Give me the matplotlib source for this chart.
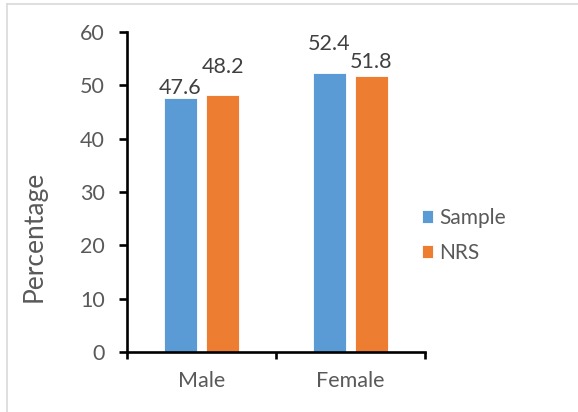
import numpy as np
import matplotlib.pyplot as plt
from matplotlib.lines import Line2D

plt.rcParams["font.family"] = ["Lato", "DejaVu Sans"]
plt.rcParams["font.size"] = 15

categories = ["Male", "Female"]
sample = [47.6, 52.4]
nrs = [48.2, 51.8]
series_names = ["Sample", "NRS"]
colors = ["#5B9BD5", "#ED7D31"]
text_color = "#595959"

# vertical nudges (points) so neighbouring value labels don't collide
sample_lift = [0, 13]
nrs_lift = [13, 3]

fig = plt.figure(figsize=(5.78, 4.12), dpi=100)
ax = fig.add_axes([0.2197, 0.1456, 0.5156, 0.7767])

x = np.arange(len(categories)) + 0.5
width = 0.22
offset = 0.141

bars = []
for vals, lifts, dx, color, name in zip([sample, nrs], [sample_lift, nrs_lift],
                                        [-offset, offset], colors, series_names):
    b = ax.bar(x + dx, vals, width, color=color, label=name,
               edgecolor="white", linewidth=0.6)
    bars.append(b)
    for xi, v, lift in zip(x + dx, vals, lifts):
        ax.annotate(f"{v:.1f}", (xi, v), xytext=(0, lift), textcoords="offset points",
                    ha="center", va="bottom", fontsize=15.5, color="#404040")

ax.set_xlim(0, 2)
ax.set_ylim(0, 60)
ax.set_yticks(range(0, 61, 10))
ax.set_xticks([0, 1, 2])
ax.set_xticklabels([])
ax.set_xticks(x, minor=True)
ax.set_xticklabels(categories, minor=True)

for side in ["top", "right"]:
    ax.spines[side].set_visible(False)
for side in ["left", "bottom"]:
    ax.spines[side].set_linewidth(1.9)
    ax.spines[side].set_color("black")

ax.tick_params(axis="y", which="major", direction="out", length=6, width=1.9,
               colors="black", labelcolor=text_color, labelsize=15.5, pad=10)
ax.tick_params(axis="x", which="major", direction="out", length=5, width=1.9,
               colors="black")
ax.tick_params(axis="x", which="minor", length=0, labelcolor=text_color,
               labelsize=15.5, pad=14)

ax.set_ylabel("Percentage", fontsize=19, color=text_color)
ax.yaxis.set_label_coords(-0.27, 0.36)

leg = fig.legend(handles=bars, labels=series_names, loc="center left",
                 bbox_to_anchor=(0.697, 0.428), frameon=False, fontsize=15,
                 handlelength=0.55, handleheight=0.6, handletextpad=0.3,
                 labelspacing=0.72)
for t in leg.get_texts():
    t.set_color(text_color)

# light frame on the left and top edges
fig.add_artist(Line2D([0.012, 0.012], [0, 0.99], color="#D9D9D9", linewidth=1.2,
                      transform=fig.transFigure))
fig.add_artist(Line2D([0.012, 1.0], [0.99, 0.99], color="#D9D9D9", linewidth=1.2,
                      transform=fig.transFigure))

fig.savefig("out.png", dpi=100)
